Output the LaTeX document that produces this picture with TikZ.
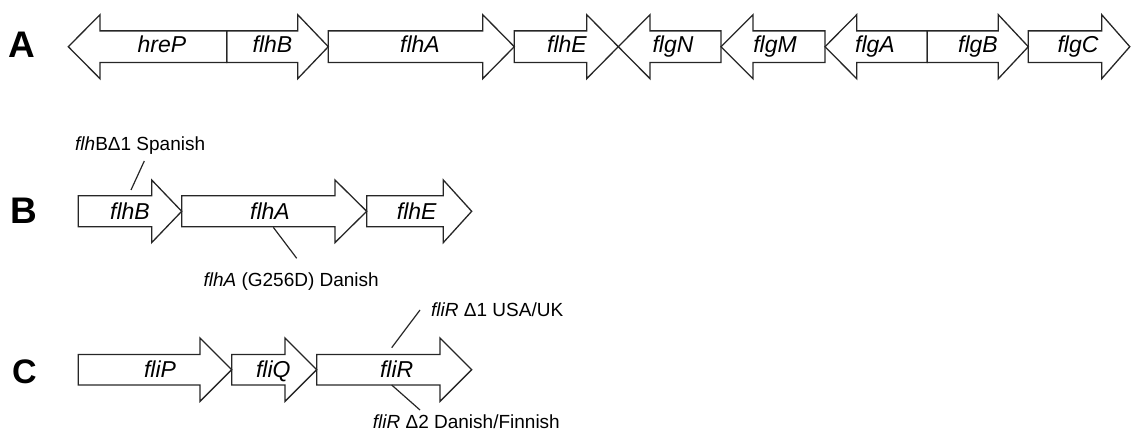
\documentclass[tikz,border=0pt]{standalone}
\usepackage{fontspec}
\setmainfont{Liberation Sans}
\begin{document}
\begin{tikzpicture}[x=1pt,y=-1pt,
  genestyle/.style={draw=black!85,line width=1.3pt,line join=miter},
  leader/.style={draw=black!85,line width=1.2pt},
  genelabel/.style={inner sep=0pt,anchor=base,font=\fontsize{23}{27}\selectfont\itshape},
  notelabel/.style={inner sep=0pt,anchor=base west,font=\fontsize{19}{23}\selectfont},
  panel/.style={inner sep=0pt,anchor=center,font=\fontsize{37}{40}\selectfont\bfseries}]
\useasboundingbox (0,0) rectangle (1131,435);
\newcommand{\generight}[5]{% body start, head base, tip, centre y
  \draw[genestyle] (#1,#4-\hb) -- (#2,#4-\hb) -- (#2,#4-\hH) -- (#3,#4) -- (#2,#4+\hH) -- (#2,#4+\hb) -- (#1,#4+\hb) -- cycle;}
\newcommand{\geneleft}[4]{% tip, head base, body end, centre y
  \draw[genestyle] (#3,#4-\hb) -- (#2,#4-\hb) -- (#2,#4-\hH) -- (#1,#4) -- (#2,#4+\hH) -- (#2,#4+\hb) -- (#3,#4+\hb) -- cycle;}
% ---------------- Row A
\def\hb{15.8}\def\hH{32}
\geneleft{68.3}{100}{226.7}{46.7}
\generight{226.7}{297.7}{328.3}{46.7}{}
\generight{328.3}{482.7}{514.3}{46.7}{}
\generight{514.3}{586.7}{618.3}{46.7}{}
\geneleft{618.3}{650}{721}{46.7}
\geneleft{721}{753}{825}{46.7}
\geneleft{825}{856.7}{927.3}{46.7}
\generight{927.3}{998.3}{1028.3}{46.7}{}
\generight{1028.3}{1101.7}{1129.8}{46.7}{}
\node[panel] (pA) at (22,44.7) {A};
\node[genelabel] (hreP) at (162,52.5) {hreP};
\node[genelabel] (flhBa) at (272.5,52.5) {flhB};
\node[genelabel] (flhAa) at (420,52.5) {flhA};
\node[genelabel] (flhEa) at (567,52.5) {flhE};
\node[genelabel] (flgN) at (673,52.5) {flgN};
\node[genelabel] (flgM) at (775,52.5) {flgM};
\node[genelabel] (flgA) at (875,52.5) {flgA};
\node[genelabel] (flgB) at (978,52.5) {flgB};
\node[genelabel] (flgC) at (1078,52.5) {flgC};
% ---------------- Row B
\def\hb{15.5}\def\hH{31.3}
\generight{78.3}{151.7}{181.7}{211.3}{}
\generight{181.7}{335}{366.7}{211.3}{}
\generight{366.7}{443.3}{471.7}{211.3}{}
\node[panel] (pB) at (24,210.3) {B};
\node[genelabel] (flhBb) at (130,219.3) {flhB};
\node[genelabel] (flhAb) at (270,219.3) {flhA};
\node[genelabel] (flhEb) at (416.7,219.3) {flhE};
\node[notelabel] (noteB1) at (75,150.7) {\textit{flh}BΔ1 Spanish};
\node[notelabel] (noteB2) at (203.3,286.5) {\textit{flhA} (G256D) Danish};
\coordinate (b1s) at (144.3,161);
\coordinate (b1e) at (131,190);
\coordinate (b2s) at (273.3,227.3);
\coordinate (b2e) at (296.7,258.3);
\draw[leader] (b1s) -- (b1e);
\draw[leader] (b2s) -- (b2e);
% ---------------- Row C
\def\hb{15.3}\def\hH{31.7}
\generight{78.3}{200}{231.7}{369.7}{}
\generight{231.7}{285}{316.7}{369.7}{}
\generight{316.7}{440}{471.7}{369.7}{}
\node[panel,font=\fontsize{34}{38}\selectfont\bfseries] (pC) at (24.5,371.5) {C};
\node[genelabel] (fliP) at (160,377) {fliP};
\node[genelabel] (fliQ) at (273.3,377) {fliQ};
\node[genelabel] (fliR) at (396.7,377) {fliR};
\node[notelabel] (noteC1) at (431,316.7) {\textit{fliR} Δ1 USA/UK};
\node[notelabel] (noteC2) at (372.7,428.3) {\textit{fliR} Δ2 Danish/Finnish};
\coordinate (c1s) at (420,310);
\coordinate (c1e) at (391.7,347.7);
\coordinate (c2s) at (391.7,385);
\coordinate (c2e) at (420,410);
\draw[leader] (c1s) -- (c1e);
\draw[leader] (c2s) -- (c2e);
\end{tikzpicture}
\end{document}
